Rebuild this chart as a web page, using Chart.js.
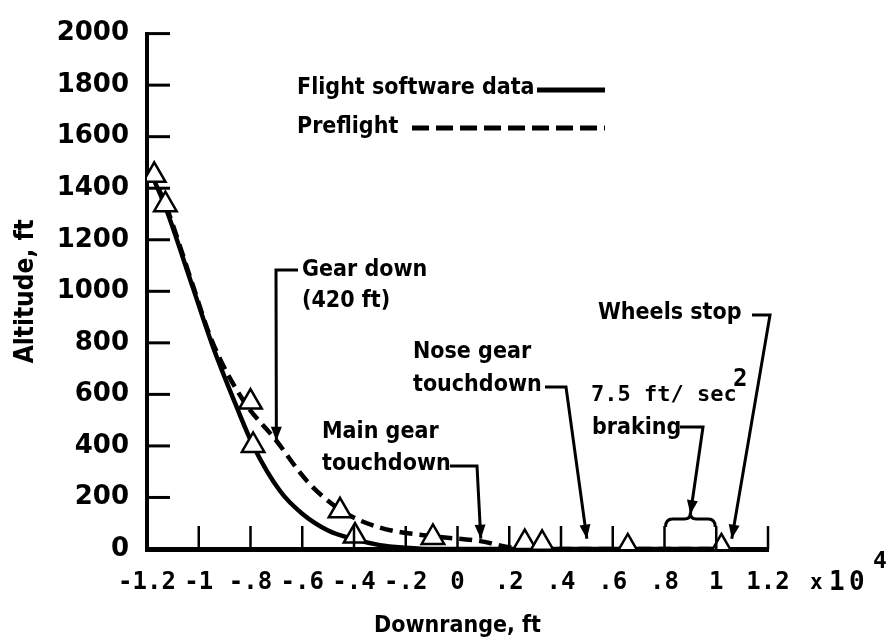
<!DOCTYPE html>
<html>
<head>
<meta charset="utf-8">
<script src="https://cdn.jsdelivr.net/npm/chart.js@4"></script>
<style>
  html, body { margin: 0; padding: 0; background: #fff; }
  canvas { display: block; }
</style>
</head>
<body>
<canvas id="chart" width="891" height="644"></canvas>
<script>
// downrange in units of 10^4 ft, altitude in ft
const flightDownrange = [-1.19, -1.13, -1.025, -0.948, -0.859, -0.79, -0.685, -0.6, -0.5, -0.4, -0.3, -0.2, -0.1, 0.2, 0.6, 1.05];
const flightAltitude  = [1470, 1330, 1021, 793, 565, 402, 224, 137, 72, 38, 15, 5, 0, 0, 0, 0];

const preflightDownrange = [-1.19, -1.13, -1.025, -0.95, -0.83, -0.7, -0.58, -0.45, -0.3, -0.1, 0.08, 0.22, 0.5, 1.05];
const preflightAltitude  = [1470, 1340, 1030, 810, 580, 420, 262, 150, 83, 50, 32, 5, 0, 0];

const markDownrange = [-1.172, -1.129, -0.8, -0.79, -0.454, -0.396, -0.095, 0.26, 0.327, 0.658, 1.02];
const markAltitude  = [1450, 1336, 570, 402, 148, 50, 45, 25, 22, 8, 8];

const xTickValues = [-1.2, -1, -0.8, -0.6, -0.4, -0.2, 0, 0.2, 0.4, 0.6, 0.8, 1, 1.2];
const xTickLabels = ['-1.2', '-1', '-.8', '-.6', '-.4', '-.2', '0', '.2', '.4', '.6', '.8', '1', '1.2'];
const yTickValues = [0, 200, 400, 600, 800, 1000, 1200, 1400, 1600, 1800, 2000];

const seriesNames = ['Flight software data', 'Preflight'];

const condFamily = '"DejaVu Sans Condensed", "DejaVu Sans", sans-serif';
const monoFamily = '"DejaVu Sans Mono", monospace';
const labelFont = 'bold 23px ' + condFamily;

const toPoints = (xs, ys) => xs.map((x, i) => ({ x: x, y: ys[i] }));

// callouts: text in pixels, arrow tip in data coordinates
const callouts = [
    { lines: ['Gear down', '(420 ft)'], left: 302, top: 270, gap: 31, elbow: [[298, 270], [276, 270]], tip: [-0.7, 420] },
    { lines: ['Main gear', 'touchdown'], left: 322, top: 432, gap: 32, elbow: [[450, 466], [477, 466]], tip: [0.09, 40] },
    { lines: ['Nose gear', 'touchdown'], left: 413, top: 352, gap: 33, elbow: [[545, 387], [566, 387]], tip: [0.5, 40] },
    { lines: ['braking'], left: 592, top: 428, gap: 0, elbow: [[680, 427], [703, 427]], tip: [0.9, 135] },
    { lines: ['Wheels stop'], left: 598, top: 313, gap: 0, elbow: [[752, 315], [770, 315]], tip: [1.06, 40] }
];

function arrowHead(ctx, fx, fy, tx, ty) {
    const a = Math.atan2(ty - fy, tx - fx);
    const len = 14, w = 5.5;
    ctx.beginPath();
    ctx.moveTo(tx, ty);
    ctx.lineTo(tx - len * Math.cos(a) + w * Math.sin(a), ty - len * Math.sin(a) - w * Math.cos(a));
    ctx.lineTo(tx - len * Math.cos(a) - w * Math.sin(a), ty - len * Math.sin(a) + w * Math.cos(a));
    ctx.closePath();
    ctx.fill();
}

const decorations = {
    id: 'decorations',
    afterDraw(chart) {
        const ctx = chart.ctx;
        const xs = chart.scales.x, ys = chart.scales.y;
        const area = chart.chartArea;
        ctx.save();
        ctx.strokeStyle = '#000';
        ctx.fillStyle = '#000';

        // inward tick marks
        ctx.lineWidth = 3;
        yTickValues.slice(1).forEach(v => {
            const py = ys.getPixelForValue(v);
            ctx.beginPath();
            ctx.moveTo(area.left, py);
            ctx.lineTo(area.left + 23, py);
            ctx.stroke();
        });
        ctx.lineWidth = 2.5;
        xTickValues.slice(1).forEach(v => {
            const px = xs.getPixelForValue(v);
            ctx.beginPath();
            ctx.moveTo(px, area.bottom);
            ctx.lineTo(px, area.bottom - 23);
            ctx.stroke();
        });

        // x 10^4 multiplier
        const labelY = area.bottom + 34;
        ctx.textBaseline = 'middle';
        ctx.textAlign = 'left';
        ctx.font = 'bold 21px ' + monoFamily;
        ctx.fillText('x', 810, labelY + 1);
        ctx.font = 'bold 26px ' + monoFamily;
        ctx.fillText('1', 829, labelY);
        ctx.fillText('0', 849, labelY);
        ctx.font = 'bold 23px ' + monoFamily;
        ctx.fillText('4', 873, labelY - 21);

        // legend
        ctx.font = labelFont;
        ctx.fillText(seriesNames[0], 297, 88);
        ctx.fillText(seriesNames[1], 297, 127);
        ctx.lineWidth = 5;
        ctx.beginPath();
        ctx.moveTo(537, 90);
        ctx.lineTo(605, 90);
        ctx.stroke();
        ctx.setLineDash([17, 7]);
        ctx.beginPath();
        ctx.moveTo(412, 128);
        ctx.lineTo(605, 128);
        ctx.stroke();
        ctx.setLineDash([]);

        // callouts
        ctx.lineWidth = 3;
        callouts.forEach(c => {
            ctx.font = labelFont;
            c.lines.forEach((t, i) => ctx.fillText(t, c.left, c.top + i * c.gap));
            const tx = xs.getPixelForValue(c.tip[0]);
            const ty = ys.getPixelForValue(c.tip[1]);
            const pts = c.elbow.concat([[tx, ty]]);
            ctx.beginPath();
            ctx.moveTo(pts[0][0], pts[0][1]);
            pts.slice(1).forEach(p => ctx.lineTo(p[0], p[1]));
            ctx.stroke();
            const prev = pts[pts.length - 2];
            arrowHead(ctx, prev[0], prev[1], tx, ty);
        });

        // braking rate label with superscript
        ctx.font = 'bold 22px ' + monoFamily;
        ctx.fillText('7.5 ft/ sec', 591, 395);
        ctx.font = 'bold 24px ' + monoFamily;
        ctx.fillText('2', 733, 380);

        // braking brace between .8 and 1
        const bx0 = xs.getPixelForValue(0.8), bx1 = xs.getPixelForValue(1.0);
        const bm = (bx0 + bx1) / 2, by = 519;
        ctx.lineWidth = 3;
        ctx.beginPath();
        ctx.moveTo(bx0 + 1, by + 8);
        ctx.quadraticCurveTo(bx0 + 1, by, bx0 + 8, by);
        ctx.lineTo(bm - 6, by);
        ctx.quadraticCurveTo(bm, by, bm, by - 6);
        ctx.quadraticCurveTo(bm, by, bm + 6, by);
        ctx.lineTo(bx1 - 8, by);
        ctx.quadraticCurveTo(bx1 - 1, by, bx1 - 1, by + 8);
        ctx.stroke();

        ctx.restore();
    }
};

new Chart(document.getElementById('chart'), {
    type: 'scatter',
    data: {
        datasets: [
            {
                label: 'marks',
                data: toPoints(markDownrange, markAltitude),
                pointStyle: 'triangle',
                pointRadius: 13,
                borderWidth: 2.5,
                borderColor: '#000',
                backgroundColor: '#fff',
                showLine: false,
                order: 0
            },
            {
                label: seriesNames[0],
                data: toPoints(flightDownrange, flightAltitude),
                showLine: true,
                borderColor: '#000',
                borderWidth: 4.5,
                pointRadius: 0,
                cubicInterpolationMode: 'monotone',
                order: 1
            },
            {
                label: seriesNames[1],
                data: toPoints(preflightDownrange, preflightAltitude),
                showLine: true,
                borderColor: '#000',
                borderWidth: 4.5,
                borderDash: [13, 7],
                pointRadius: 0,
                cubicInterpolationMode: 'monotone',
                order: 2
            }
        ]
    },
    options: {
        responsive: false,
        animation: false,
        layout: { padding: { top: 22, right: 123, left: 7, bottom: 0 } },
        plugins: { legend: { display: false }, tooltip: { enabled: false } },
        scales: {
            x: {
                type: 'linear',
                min: -1.2,
                max: 1.2,
                afterBuildTicks: scale => { scale.ticks = xTickValues.map(v => ({ value: v })); },
                afterFit: scale => { scale.height = 95; },
                grid: { display: false, drawTicks: false },
                border: { display: true, color: '#000', width: 5 },
                ticks: {
                    callback: (v, i) => xTickLabels[i],
                    font: { family: monoFamily, size: 24, weight: 'bold' },
                    color: '#000',
                    padding: 19,
                    maxRotation: 0,
                    autoSkip: false
                },
                title: {
                    display: true,
                    text: 'Downrange, ft',
                    color: '#000',
                    font: { family: condFamily, size: 23, weight: 'bold' }
                }
            },
            y: {
                type: 'linear',
                min: 0,
                max: 2000,
                afterBuildTicks: scale => { scale.ticks = yTickValues.map(v => ({ value: v })); },
                afterFit: scale => { scale.width = 140; },
                grid: { display: false, drawTicks: false },
                border: { display: true, color: '#000', width: 4 },
                ticks: {
                    callback: v => String(v),
                    font: { family: '"DejaVu Sans", sans-serif', size: 26, weight: 'bold' },
                    color: '#000',
                    padding: 18
                },
                title: {
                    display: true,
                    text: 'Altitude, ft',
                    color: '#000',
                    font: { family: condFamily, size: 26, weight: 'bold' }
                }
            }
        }
    },
    plugins: [decorations]
});
</script>
</body>
</html>
